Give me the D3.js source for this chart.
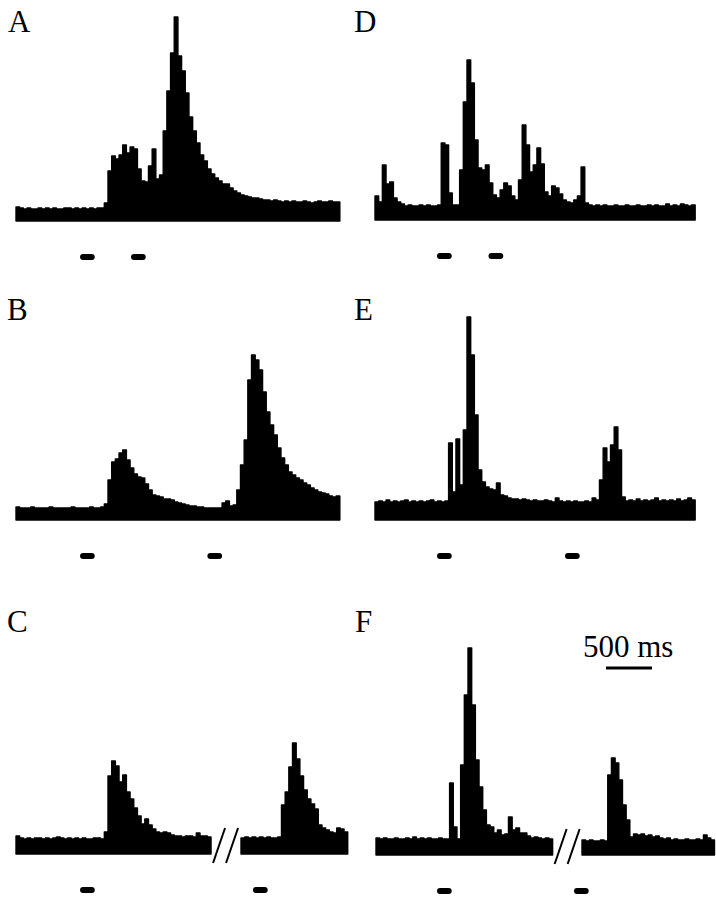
<!DOCTYPE html>
<html>
<head>
<meta charset="utf-8">
<script src="https://cdn.jsdelivr.net/npm/d3@7"></script>
<style>
  body { margin: 0; background: #fff; }
  text { font-family: "Liberation Serif", "Times New Roman", serif; fill: #000; }
</style>
</head>
<body>
<div id="chart"></div>
<script>
// histogram bin width (ms) and stimulus duration (ms)
var binMs = 40;
var stimDur = 160;
var scaleBarMs = 500;

// PSTH values (spikes/s, one per 40 ms bin)
var panelA = [14,13,12,13,12,12,13,12,13,12,13,12,12,13,13,12,13,12,13,12,13,12,13,13,
  18,50,65,62,66,76,68,74,72,52,40,39,55,72,42,46,90,130,168,204,165,150,128,104,90,78,
  66,60,52,47,43,40,37,37,33,30,28,26,25,24,23,23,22,21,21,20,21,20,19,20,19,20,19,19,
  20,19,18,19,20,19,19,20,19,19];
var panelB = [13,12,12,12,13,12,12,12,12,13,12,12,12,12,12,13,12,12,12,12,13,12,12,13,
  16,40,58,61,67,70,60,52,46,43,42,36,30,25,24,23,21,21,20,18,17,16,15,14,14,13,13,12,
  12,12,12,12,17,19,14,15,30,55,80,140,165,160,150,128,108,95,85,72,62,55,48,45,42,40,
  37,35,32,30,28,27,26,24,23,24];
var panelC1 = [18,16,15,16,15,16,16,15,16,15,16,17,16,15,16,15,16,15,16,15,15,16,16,15,
  22,78,93,88,72,79,62,55,46,38,30,35,29,25,22,21,22,21,19,18,18,17,18,18,17,21,18,18,17];
var panelC2 = [16,17,16,17,16,17,16,17,16,16,17,49,62,87,111,95,78,64,55,50,45,29,26,24,
  22,21,26,25,22];
var panelD = [24,18,55,36,38,22,18,16,14,15,14,14,15,14,15,14,14,15,77,75,27,15,15,50,118,
  160,137,80,52,50,55,37,25,22,30,37,34,24,20,40,95,75,48,55,72,56,28,24,34,32,26,20,18,
  17,20,24,53,17,15,14,15,14,15,14,14,15,14,14,15,14,14,15,14,14,15,14,15,14,14,16,14,15,
  14,16,15,14,15];
var panelE = [18,19,18,20,18,19,18,19,20,18,19,18,19,18,19,20,18,19,18,19,77,28,81,35,90,
  203,165,105,50,38,33,31,30,37,25,24,22,21,21,20,21,20,19,20,19,19,20,19,18,22,19,18,19,
  18,19,18,18,19,18,22,20,40,72,58,75,93,70,23,19,20,19,21,19,20,19,20,22,19,20,19,20,19,
  21,19,20,22,20];
var panelF1 = [17,16,17,16,16,17,16,16,17,16,18,16,17,16,17,16,16,17,16,16,72,28,16,90,160,
  207,150,95,68,45,30,28,22,25,20,21,38,25,27,22,22,19,17,18,17,16,17,16];
var panelF2 = [15,14,15,14,14,15,14,80,97,92,75,50,35,18,21,20,21,19,20,18,19,17,16,17,15,
  16,15,15,16,15,15,16,15,20,17,15];

// stimulus onsets (ms from segment start)
var stimA = [696, 1250];
var stimB = [696, 2080];
var stimC1 = [696];
var stimC2 = [130];
var stimD = [674, 1234];
var stimE = [674, 2065];
var stimF1 = [663];
var stimF2 = [-87];

var width = 716, height = 900;

var svg = d3.select("#chart").append("svg")
    .attr("width", width)
    .attr("height", height);

// time -> px (500 ms = 46 px), rate -> px height
var xTime = d3.scaleLinear().domain([0, scaleBarMs]).range([0, 46]);
var yRate = d3.scaleLinear().domain([0, 200]).range([0, 200]);

var panels = [
  {label: "A", lx: 8, ly: 32, bottom: 221, segs: [{x0: 16, data: panelA, stim: stimA}]},
  {label: "B", lx: 7, ly: 320, bottom: 520, segs: [{x0: 16, data: panelB, stim: stimB}]},
  {label: "C", lx: 7, ly: 632, bottom: 854, brk: true,
    segs: [{x0: 16, data: panelC1, stim: stimC1}, {x0: 241, data: panelC2, stim: stimC2}]},
  {label: "D", lx: 354, ly: 32, bottom: 220, segs: [{x0: 375, data: panelD, stim: stimD}]},
  {label: "E", lx: 354, ly: 320, bottom: 520, segs: [{x0: 375, data: panelE, stim: stimE}]},
  {label: "F", lx: 355, ly: 632, bottom: 855, brk: true,
    segs: [{x0: 376, data: panelF1, stim: stimF1}, {x0: 582, data: panelF2, stim: stimF2}]}
];

var area = d3.area()
    .curve(d3.curveStepAfter)
    .x(function(d, i) { return xTime(i * binMs); })
    .y0(0)
    .y1(function(d) { return -yRate(d); });

panels.forEach(function(p) {
  svg.append("text")
      .attr("x", p.lx)
      .attr("y", p.ly)
      .style("font-size", "31px")
      .text(p.label);

  p.segs.forEach(function(s) {
    var g = svg.append("g")
        .attr("transform", "translate(" + s.x0 + "," + p.bottom + ")");

    // repeat last value so the final bin gets its width
    var vals = s.data.concat([s.data[s.data.length - 1]]);
    g.append("path")
        .datum(vals)
        .attr("d", area)
        .attr("fill", "#000")
        .attr("stroke", "#000")
        .attr("stroke-width", 1.4)
        .attr("stroke-linejoin", "round");

    // stimulus markers
    g.selectAll(".stim")
        .data(s.stim)
      .enter().append("rect")
        .attr("class", "stim")
        .attr("x", function(d) { return xTime(d); })
        .attr("y", 33)
        .attr("width", xTime(stimDur))
        .attr("height", 6)
        .attr("rx", 3)
        .attr("fill", "#000");
  });

  // axis break "//"
  if (p.brk) {
    var s0 = p.segs[0];
    var endX = s0.x0 + xTime(s0.data.length * binMs);
    [2, 15].forEach(function(dx) {
      svg.append("line")
          .attr("x1", endX + dx)
          .attr("y1", p.bottom + 9)
          .attr("x2", endX + dx + 12)
          .attr("y2", p.bottom - 26)
          .attr("stroke", "#000")
          .attr("stroke-width", 2);
    });
  }
});

// scale bar
svg.append("text")
    .attr("x", 583)
    .attr("y", 657)
    .style("font-size", "31px")
    .text("500 ms");

svg.append("line")
    .attr("x1", 606)
    .attr("x2", 606 + xTime(scaleBarMs))
    .attr("y1", 668)
    .attr("y2", 668)
    .attr("stroke", "#000")
    .attr("stroke-width", 3);
</script>
</body>
</html>
